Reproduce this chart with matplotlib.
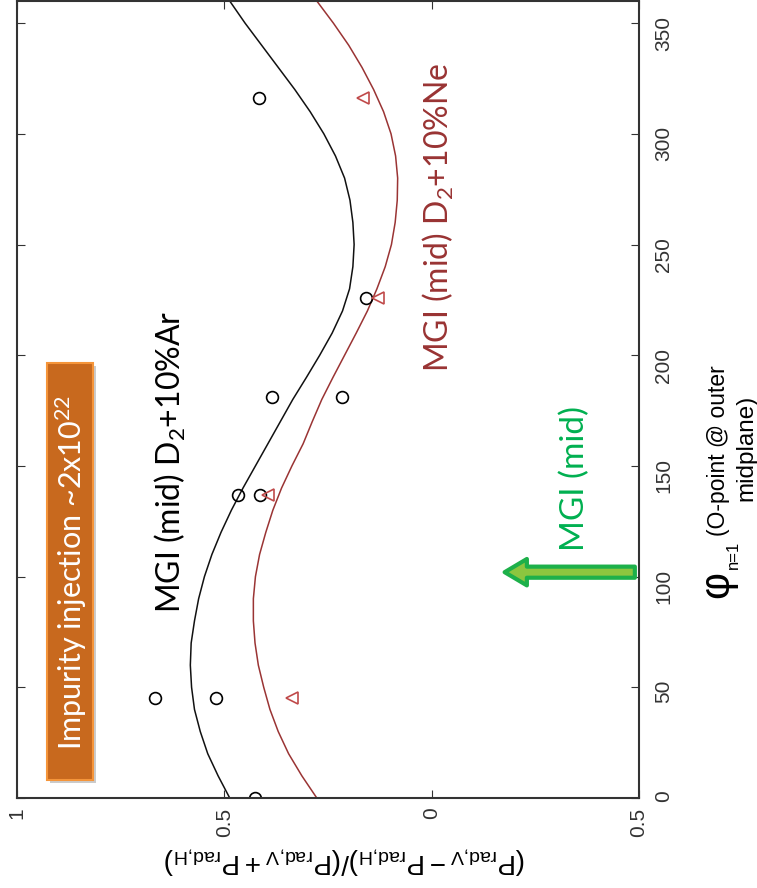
import matplotlib.pyplot as plt
import matplotlib as mpl
from matplotlib.patches import Rectangle

mpl.rcParams['mathtext.fontset'] = 'custom'
mpl.rcParams['mathtext.rm'] = 'Liberation Sans'
mpl.rcParams['mathtext.it'] = 'Liberation Sans'

# measured points, D2+10%Ar (circles) and D2+10%Ne (triangles)
phi_ar = [0, 45, 45, 137, 137, 181, 181, 226, 316]
ratio_ar = [0.427, 0.668, 0.521, 0.468, 0.415, 0.386, 0.217, 0.159, 0.417]
phi_ne = [45, 137, 226, 316]
ratio_ne = [0.338, 0.395, 0.130, 0.166]

phi_fit = [0, 10, 20, 30, 40, 50, 60, 70, 80, 90, 100, 110, 120, 130, 140, 150, 160, 170, 180,
           190, 200, 210, 220, 230, 240, 250, 260, 270, 280, 290, 300, 310, 320, 330, 340, 350, 360]
fit_ar = [0.487, 0.515, 0.54, 0.558, 0.572, 0.579, 0.582, 0.58, 0.572, 0.562, 0.548, 0.53, 0.508,
          0.483, 0.455, 0.425, 0.395, 0.365, 0.335, 0.302, 0.27, 0.24, 0.215, 0.198, 0.19, 0.187,
          0.19, 0.197, 0.21, 0.232, 0.26, 0.293, 0.33, 0.37, 0.41, 0.45, 0.487]
fit_ne = [0.277, 0.313, 0.345, 0.37, 0.39, 0.405, 0.418, 0.426, 0.43, 0.43, 0.425, 0.415, 0.40,
          0.383, 0.362, 0.337, 0.31, 0.288, 0.265, 0.238, 0.21, 0.182, 0.155, 0.132, 0.112, 0.097,
          0.088, 0.083, 0.082, 0.087, 0.098, 0.116, 0.14, 0.168, 0.2, 0.237, 0.277]

phi_ticks = [0, 50, 100, 150, 200, 250, 300, 350]
ratio_ticks = [-0.5, 0, 0.5, 1]
ratio_ticklabels = ['0.5', '0', '0.5', '1']

W, H = 757, 888
narrow = ['Liberation Sans Narrow', 'Liberation Sans', 'DejaVu Sans']
calib = ['Lato', 'DejaVu Sans']


def fx(px):
    return px / W


def fy(py):
    return 1 - py / H


fig = plt.figure(figsize=(W / 100, H / 100), dpi=100)
# whole chart is shown turned 90 deg counter-clockwise
ax = fig.add_axes([fx(17), fy(798), fx(639) - fx(17), fy(1) - fy(798)])
ax.set_xlim(1, -0.5)
ax.set_ylim(0, 360)

ax.plot(fit_ar, phi_fit, color='#111111', lw=1.1)
ax.plot(fit_ne, phi_fit, color='#9a3434', lw=1.1)
ax.plot(ratio_ar, phi_ar, 'o', mfc='none', mec='black', ms=8.5, mew=1.2)
ax.plot(ratio_ne, phi_ne, '<', mfc='none', mec='#c04a4a', ms=8, mew=1.2)

for s in ax.spines.values():
    s.set_color('#333333')
    s.set_linewidth(1.5)

ax.set_yticks(phi_ticks)
ax.set_xticks(ratio_ticks)
ax.set_xticklabels(ratio_ticklabels)
ax.tick_params(axis='y', which='both', direction='in', length=6, left=True, right=True,
               labelleft=False, labelright=True, labelrotation=90, pad=11, labelsize=15,
               colors='#333333')
ax.tick_params(axis='x', which='both', direction='in', length=6, top=True, bottom=True,
               labelrotation=90, pad=7, labelsize=15, colors='#333333')
for lab in ax.get_xticklabels() + ax.get_yticklabels():
    lab.set_fontfamily(narrow)

# x-axis title (right side once turned)
fig.text(fx(717), fy(584), '\u03c6', rotation=90, ha='center', va='center',
         fontsize=30, family=['Liberation Sans', 'DejaVu Sans'])
fig.text(fx(733), fy(555), 'n=1', rotation=90, ha='center', va='center',
         fontsize=12, family=narrow)
fig.text(fx(719), fy(536), '(O-point @ outer', rotation=90, ha='center', va='bottom',
         fontsize=16.5, family=narrow)
fig.text(fx(746), fy(448), 'midplane)', rotation=90, ha='center', va='center',
         fontsize=17.5, family=narrow)

# y-axis title (bottom, upside down once turned)
fig.text(fx(345), fy(860),
         r'$\mathregular{(P_{rad{,}V} - P_{rad{,}H})/(P_{rad{,}V}+P_{rad{,}H})}$',
         rotation=180, ha='center', va='center', fontsize=20,
         family=['Liberation Sans', 'DejaVu Sans'])

# orange box
fig.patches.append(Rectangle((fx(50), fy(783)), fx(93) - fx(47), fy(363) - fy(780),
                             transform=fig.transFigure, fc='#999999', ec='none', alpha=0.5))
fig.patches.append(Rectangle((fx(47), fy(780)), fx(93) - fx(47), fy(363) - fy(780),
                             transform=fig.transFigure, fc='#c8691e', ec='#f5953a', lw=1.5))
fig.text(fx(71), fy(572), r'Impurity injection ~2x10$\mathregular{^{22}}$', rotation=90,
         ha='center', va='center', fontsize=22, color='white', family=calib)

# annotations
fig.text(fx(170), fy(462), r'MGI (mid) D$\mathregular{_2}$+10%Ar', rotation=90,
         ha='center', va='center', fontsize=23, color='black', family=calib)
fig.text(fx(438), fy(217), r'MGI (mid) D$\mathregular{_2}$+10%Ne', rotation=90,
         ha='center', va='center', fontsize=23, color='#993333', family=calib)
fig.text(fx(575), fy(478), 'MGI (mid)', rotation=90,
         ha='center', va='center', fontsize=24, color='#00b050', family=calib)

ax.annotate('', xy=(-0.176, 102), xytext=(-0.49, 102), annotation_clip=False,
            arrowprops=dict(arrowstyle='simple,head_length=0.8,head_width=0.95,tail_width=0.4',
                            fc='#8cc63f', ec='#1db04a', lw=3, mutation_scale=20,
                            shrinkA=0, shrinkB=0))

fig.savefig('out.png', dpi=100)
